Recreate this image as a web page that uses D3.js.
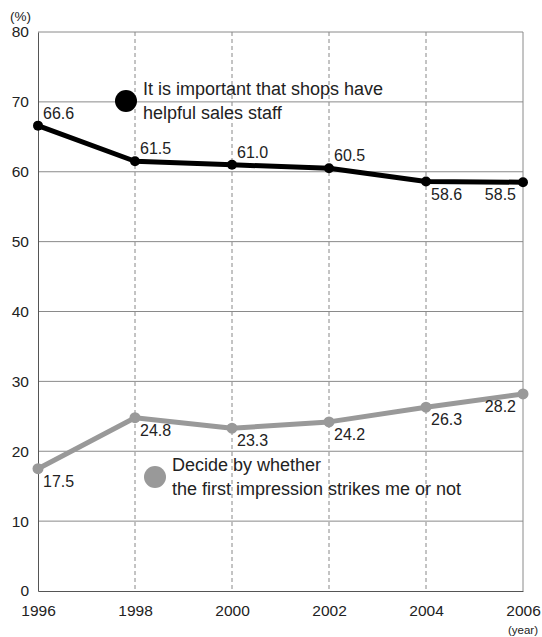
<!DOCTYPE html>
<html><head><meta charset="utf-8">
<script src="https://cdn.jsdelivr.net/npm/d3@7"></script>
<style>
html,body{margin:0;padding:0;background:#fff;}
text{font-family:"Liberation Sans",Arial,Helvetica,sans-serif;fill:#222;}
</style></head>
<body><svg id="c" width="542" height="637"></svg>
<script>
const years = [1996, 1998, 2000, 2002, 2004, 2006];
const staffValues = [66.6, 61.5, 61.0, 60.5, 58.6, 58.5];
const impressionValues = [17.5, 24.8, 23.3, 24.2, 26.3, 28.2];
const yTicks = [0, 10, 20, 30, 40, 50, 60, 70, 80];
const staffLabelPos = ["above", "above", "above", "above", "below", "belowLeft"];
const impressionLabelPos = ["below", "below", "below", "below", "below", "belowLeft"];
const legendStaff = ["It is important that shops have", "helpful sales staff"];
const legendImpression = ["Decide by whether", "the first impression strikes me or not"];

const svg = d3.select("#c");
const m = {l: 38, r: 19, t: 32, b: 46};
const W = 542, H = 637;
const x = d3.scaleLinear().domain([1996, 2006]).range([m.l, W - m.r]);
const y = d3.scaleLinear().domain([0, 80]).range([H - m.b, m.t]);

// horizontal grid
svg.append("g").selectAll("line").data(yTicks.filter(d => d > 0)).join("line")
  .attr("x1", x(1996)).attr("x2", x(2006))
  .attr("y1", d => y(d)).attr("y2", d => y(d))
  .attr("stroke", "#8a8a8a").attr("stroke-width", 1);
// vertical dashed grid
svg.append("g").selectAll("line").data(years.slice(1, -1)).join("line")
  .attr("x1", d => x(d)).attr("x2", d => x(d))
  .attr("y1", y(80)).attr("y2", y(0))
  .attr("stroke", "#888").attr("stroke-width", 1).attr("stroke-dasharray", "4,3");
// right border
svg.append("line").attr("x1", x(2006)).attr("x2", x(2006)).attr("y1", y(80)).attr("y2", y(0))
  .attr("stroke", "#8a8a8a").attr("stroke-width", 1);

// axes
const yAxis = d3.axisLeft(y).tickValues(yTicks).tickSize(0).tickPadding(9);
const gy = svg.append("g").attr("transform", `translate(${x(1996)},0)`).call(yAxis);
gy.select(".domain").attr("stroke", "#555");
gy.selectAll("text").attr("font-size", 15.5).style("fill", "#222");
const xAxis = d3.axisBottom(x).tickValues(years).tickFormat(d3.format("d")).tickSize(0).tickPadding(14);
const gx = svg.append("g").attr("transform", `translate(0,${y(0)})`).call(xAxis);
gx.select(".domain").attr("stroke", "#555");
gx.selectAll("text").attr("font-size", 15.5).style("fill", "#222");

svg.append("text").attr("x", 10).attr("y", 21).attr("font-size", 13.5).text("(%)");
svg.append("text").attr("x", 538).attr("y", 634).attr("font-size", 11.5).attr("text-anchor", "end").text("(year)");

const line = d3.line().x((d, i) => x(years[i])).y(d => y(d));

function series(vals, color, r, pos) {
  svg.append("path").datum(vals).attr("d", line).attr("fill", "none")
    .attr("stroke", color).attr("stroke-width", 5).attr("stroke-linejoin", "round");
  svg.append("g").selectAll("circle").data(vals).join("circle")
    .attr("cx", (d, i) => x(years[i])).attr("cy", d => y(d)).attr("r", r).attr("fill", color);
  svg.append("g").selectAll("text").data(vals).join("text")
    .attr("x", (d, i) => pos[i] === "belowLeft" ? x(years[i]) - 7 : x(years[i]) + 5)
    .attr("y", (d, i) => pos[i] === "above" ? y(d) - 7 : y(d) + 18)
    .attr("text-anchor", (d, i) => pos[i] === "belowLeft" ? "end" : "start")
    .attr("font-size", 16).text(d => d.toFixed(1));
}
series(staffValues, "#000", 5, staffLabelPos);
series(impressionValues, "#999", 5.5, impressionLabelPos);

// legends
function legend(cx, cy, color, lines) {
  svg.append("circle").attr("cx", cx).attr("cy", cy).attr("r", 11).attr("fill", color);
  svg.append("g").selectAll("text").data(lines).join("text")
    .attr("x", cx + 17).attr("y", (d, i) => cy - 6 + i * 23.5)
    .attr("font-size", 18).text(d => d);
}
legend(126, 101, "#000", legendStaff);
legend(155, 477, "#999", legendImpression);
</script></body></html>
